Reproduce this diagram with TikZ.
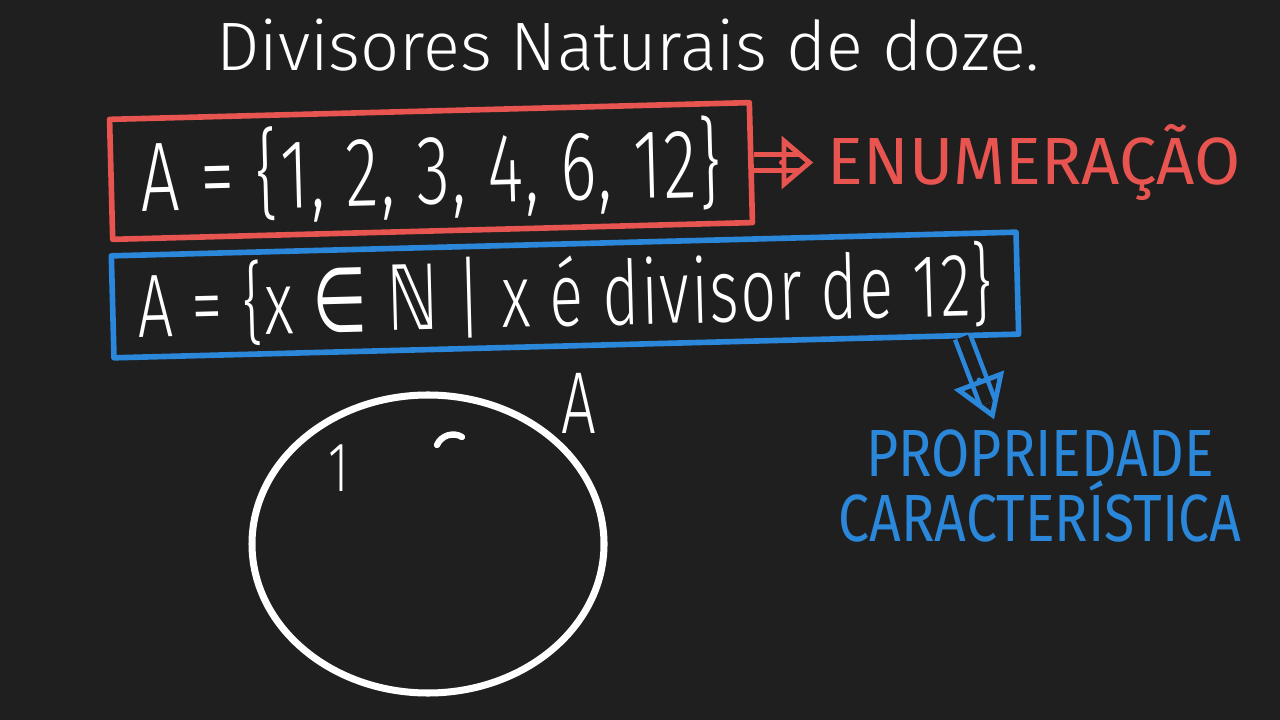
\documentclass[tikz,border=0pt]{standalone}
\usepackage{fontspec}
\usepackage{xcolor}
\usepackage{tikz}
\usetikzlibrary{positioning, arrows.meta, shapes.geometric, calc}

\setmainfont{Fira Sans Light}
\newfontfamily\handfont[FakeStretch=0.7, LetterSpace=2]{Fira Sans Light}
\newfontfamily\handsym[FakeStretch=0.7]{DejaVu Sans}
\newfontfamily\tagfont{Fira Sans}
\newfontfamily\propfont[FakeStretch=0.83]{Fira Sans}

\definecolor{board}{RGB}{31,31,31}
\definecolor{chalkred}{RGB}{232,84,80}
\definecolor{chalkblue}{RGB}{42,135,218}

\begin{document}
\begin{tikzpicture}[line cap=round, line join=round,
    chalk/.style={text=white, font=\handfont\fontsize{28}{32}\selectfont},
    setbox/.style={draw, line width=1.6pt, rotate=1.5, inner sep=0pt, chalk},
    tag/.style={font=\tagfont\fontsize{19}{17}\selectfont, inner sep=1pt},
    shaft/.style={line width=1.3pt, double=board, double distance=3.2pt, line cap=butt},
    head/.style={line width=1.4pt, -{Triangle[open, length=#1, width=15pt]}},
    head/.default=9pt]
  \fill[board] (0,0) rectangle (12.8,-7.2);
  \useasboundingbox (0,0) rectangle (12.8,-7.2);

  \node[text=white, font=\fontsize{19.5}{24}\selectfont] (title) at (6.28,-0.45) {Divisores Naturais de doze.};

  % the set written in two ways
  \node[setbox, draw=chalkred, minimum width=6.4cm, minimum height=1.2cm] (enum) at (4.31,-1.71)
    {A = \{1, 2, 3, 4, 6, 12\}};
  \node[setbox, draw=chalkblue, minimum width=9.05cm, minimum height=1.02cm,
    font=\handfont\fontsize{25.5}{30}\selectfont] (prop) at (5.65,-2.95)
    {A = \{x {\handsym ∈ ℕ} | x é divisor de 12\}};

  \node[tag, text=chalkred, right=0.7cm of enum] (enumtag) {ENUMERAÇÃO};
  \coordinate (redtip) at ([xshift=-3pt]enum.east -| enumtag.west);
  \draw[shaft, chalkred] (enum.east) -- ([xshift=-4pt]redtip);
  \draw[head, chalkred] ([xshift=-9pt]redtip) -- (redtip);

  \node[tag, font=\propfont\fontsize{19}{17}\selectfont, text=chalkblue, align=center] (proptag) at (10.40,-4.86)
    {PROPRIEDADE\\CARACTERÍSTICA};
  \coordinate (propfoot) at ([xshift=-0.59cm]prop.south east);
  \coordinate (bluetip) at ([xshift=-0.46cm,yshift=0.06cm]proptag.north);
  \draw[shaft, chalkblue] (propfoot) -- ($(bluetip)!5pt!(propfoot)$);
  \draw[head=12pt, chalkblue] ($(bluetip)!12pt!(propfoot)$) -- (bluetip);

  % diagram of A
  \node[ellipse, draw=white, line width=2pt, minimum width=3.52cm, minimum height=2.98cm] (setA) at (4.28,-5.44) {};
  \node[chalk, font=\handfont\fontsize{25}{28}\selectfont] (nameA) at ([xshift=0.24cm,yshift=0.33cm]setA.north east) {A};
  \node[chalk, font=\handfont\fontsize{20}{24}\selectfont] (one) at ([xshift=-0.89cm,yshift=0.76cm]setA.center) {1};
  \draw[white, line width=1.8pt] ([xshift=0.09cm,yshift=0.99cm]setA.center) to[bend left=50] ([xshift=0.34cm,yshift=1.07cm]setA.center);
\end{tikzpicture}
\end{document}
